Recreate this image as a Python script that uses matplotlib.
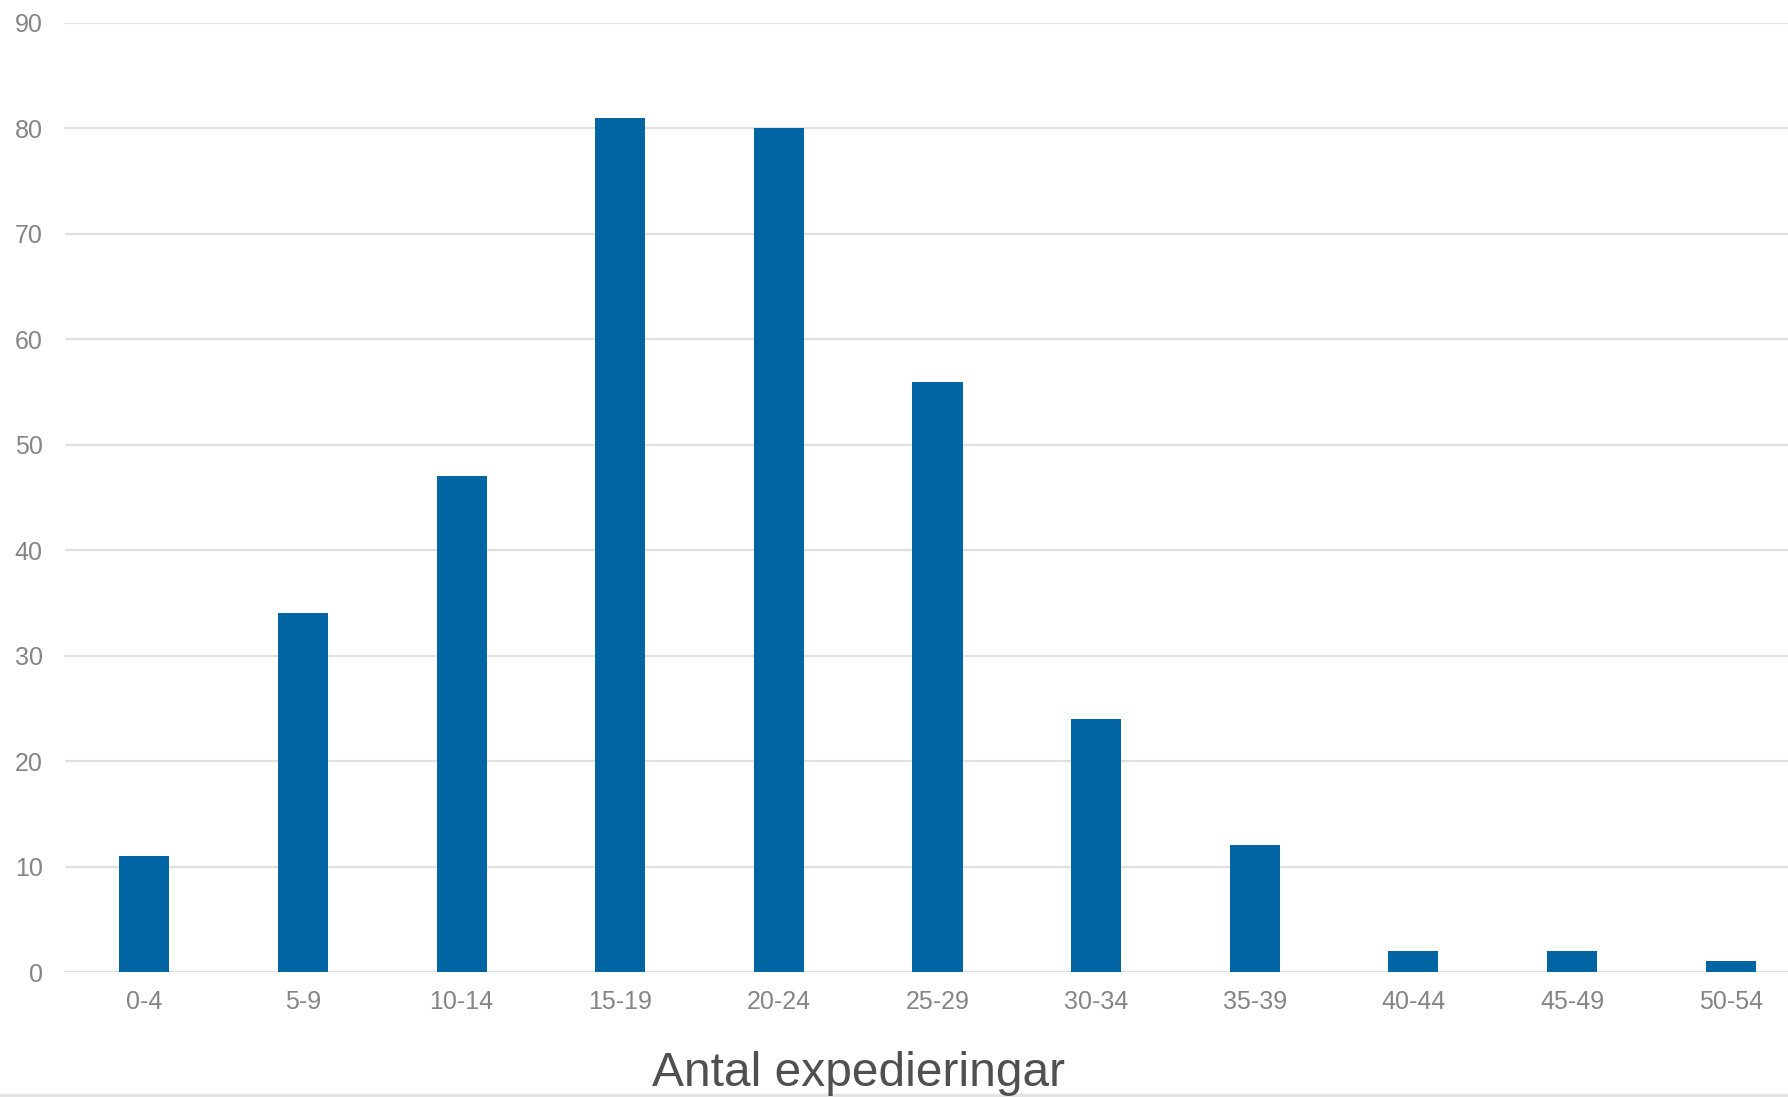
import matplotlib
matplotlib.use("Agg")
import matplotlib.pyplot as plt
import numpy as np

plt.rcParams['font.family'] = ['Liberation Sans', 'DejaVu Sans']

kategorier = ["0-4", "5-9", "10-14", "15-19", "20-24", "25-29",
              "30-34", "35-39", "40-44", "45-49", "50-54"]
antal = [11, 34, 47, 81, 80, 56, 24, 12, 2, 2, 1]
y_ticks = [0, 10, 20, 30, 40, 50, 60, 70, 80, 90]

W, H = 1788, 1097
fig = plt.figure(figsize=(W/100, H/100), dpi=100)
# axes goes slightly past the right edge, the original is cropped there
ax = fig.add_axes([65/W, 1 - 972/H, 1745/W, (972 - 23)/H])

x = np.arange(len(kategorier))
ax.bar(x, antal, width=0.316, color="#0065a2", zorder=3)

ax.set_xlim(-0.5, len(kategorier) - 0.5)
ax.set_ylim(0, 90)
ax.set_yticks(y_ticks)
ax.set_xticks(x)
ax.set_xticklabels(kategorier)
ax.grid(axis="y", color="#e0e0e0", lw=1.6, zorder=0)
ax.tick_params(axis="both", length=0, labelsize=18, colors="#858585")
ax.tick_params(axis="y", pad=16)
ax.tick_params(axis="x", pad=13)
for s in ax.spines.values():
    s.set_visible(False)

fig.text(858/W, 1 - 1086/H, "Antal expedieringar", ha="center", va="baseline",
         fontsize=34.5, color="#505050")
fig.add_artist(plt.Line2D([0, 1], [1 - 1095/H, 1 - 1095/H], color="#e3e3e3", lw=2.5))

fig.savefig("out.png", dpi=100)
